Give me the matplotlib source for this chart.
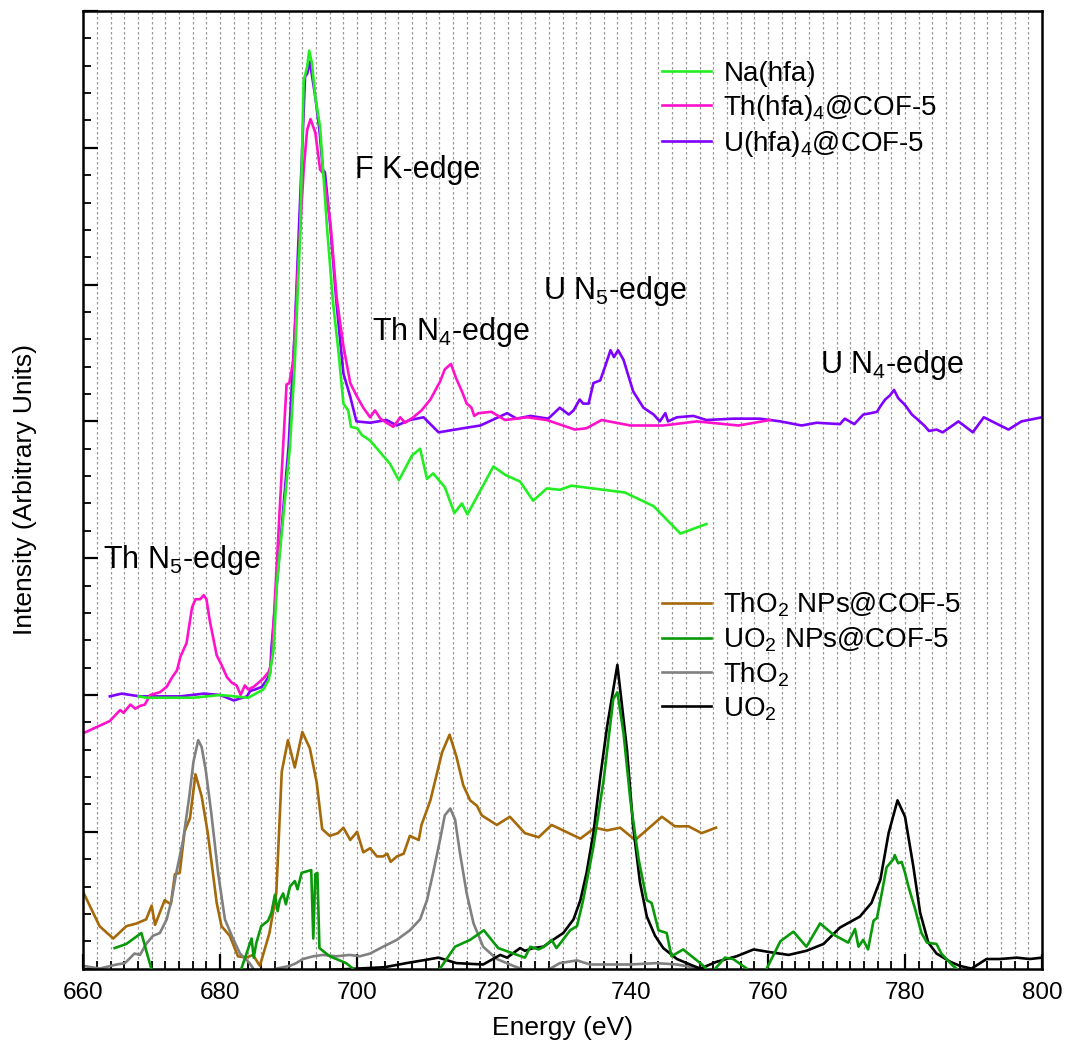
import matplotlib
matplotlib.use("Agg")
import matplotlib.pyplot as plt
from matplotlib.ticker import MultipleLocator, NullFormatter

plt.rcParams['font.family'] = ['Liberation Sans', 'DejaVu Sans']
plt.rcParams['mathtext.fontset'] = 'custom'
plt.rcParams['mathtext.rm'] = 'Liberation Sans'

#######################################################
# Data (energy in eV, intensity in arbitrary units)
#######################################################

# Na(hfa)
na_e = [668.1, 669.3, 676.1, 680.0, 684.1, 686.3, 687.1, 687.8, 688.3, 690.2, 690.9, 691.7,
        692.2, 692.7, 693.0, 693.4, 693.9, 694.6, 695.6, 696.5, 697.3, 698.0, 698.7, 699.1,
        700.0, 700.7, 701.9, 704.8, 706.1, 708.0, 709.2, 710.2, 711.1, 712.8, 714.2, 715.3,
        716.1, 719.9, 721.6, 723.8, 725.7, 727.7, 729.6, 731.3, 739.1, 743.3, 747.2, 751.0]
na_i = [1.99, 1.98, 1.98, 2.00, 1.98, 2.04, 2.11, 2.33, 2.82, 3.82, 4.42, 5.40,
        6.49, 6.59, 6.71, 6.62, 6.37, 6.15, 5.42, 4.86, 4.50, 4.13, 4.08, 3.96,
        3.95, 3.90, 3.86, 3.69, 3.57, 3.75, 3.80, 3.58, 3.62, 3.52, 3.33, 3.40,
        3.32, 3.67, 3.61, 3.56, 3.42, 3.51, 3.50, 3.53, 3.48, 3.38, 3.18, 3.25]

# Th(hfa)4@COF-5
th_e = [660.0, 663.9, 665.4, 665.9, 666.9, 667.6, 668.3, 669.0, 669.8, 671.2, 672.2, 673.0,
        673.7, 674.2, 675.1, 675.9, 676.4, 677.1, 677.6, 678.0, 678.5, 679.5, 680.2, 681.0,
        681.7, 682.4, 683.0, 683.6, 684.1, 684.9, 685.6, 686.3, 687.1, 687.5, 689.2, 689.7,
        690.1, 690.7, 691.4, 692.2, 692.7, 693.2, 693.9, 694.6, 695.1, 696.1, 697.0, 698.0,
        699.0, 700.0, 700.9, 701.9, 702.6, 703.4, 704.3, 705.3, 706.3, 707.0, 708.2, 709.4,
        710.7, 712.1, 712.8, 713.7, 714.5, 715.3, 716.0, 716.7, 717.1, 717.7, 719.6, 721.6,
        724.8, 727.7, 731.8, 733.5, 735.7, 739.9, 744.7, 749.6, 755.7, 760.3]
th_i = [1.72, 1.81, 1.89, 1.87, 1.93, 1.90, 1.92, 1.93, 2.00, 2.02, 2.06, 2.13,
        2.18, 2.28, 2.38, 2.64, 2.70, 2.70, 2.73, 2.70, 2.54, 2.29, 2.22, 2.13,
        2.09, 2.07, 2.00, 2.07, 2.04, 2.06, 2.09, 2.12, 2.17, 2.24, 3.82, 4.27,
        4.28, 4.45, 5.16, 5.84, 6.13, 6.21, 6.11, 5.84, 5.81, 5.45, 4.91, 4.55,
        4.28, 4.18, 4.10, 4.03, 4.08, 4.02, 3.99, 3.96, 4.03, 3.99, 4.03, 4.08,
        4.16, 4.29, 4.38, 4.42, 4.31, 4.22, 4.13, 4.10, 4.04, 4.06, 4.07, 4.01,
        4.03, 4.01, 3.94, 3.95, 4.01, 3.97, 3.97, 4.00, 3.97, 4.01]

# U(hfa)4@COF-5
u_e = [663.9, 665.6, 668.3, 674.2, 677.6, 680.0, 682.0, 683.9, 684.4, 685.1, 686.1, 686.8,
       687.3, 687.5, 690.0, 690.9, 691.9, 692.4, 692.7, 693.1, 693.9, 694.5, 695.0, 695.3,
       696.1, 697.0, 698.0, 699.0, 699.9, 701.9, 704.3, 705.8, 707.7, 709.7, 711.9, 715.5,
       718.0, 721.9, 723.3, 725.3, 727.9, 729.6, 730.9, 731.6, 732.5, 733.0, 733.8, 734.5,
       735.5, 736.2, 737.0, 737.5, 738.1, 738.9, 740.3, 741.8, 743.3, 744.2, 745.0, 745.4,
       746.7, 749.1, 751.0, 754.9, 758.8, 761.8, 764.9, 767.1, 770.5, 771.2, 772.6, 773.9,
       775.0, 775.9, 776.4, 777.1, 777.8, 778.4, 779.0, 780.0, 781.0, 781.7, 782.8, 783.5,
       784.6, 785.5, 787.8, 789.9, 791.5, 795.1, 797.0, 800.0]
u_i = [1.99, 2.01, 1.99, 1.99, 2.01, 2.00, 1.96, 1.99, 2.03, 2.04, 2.06, 2.11,
       2.16, 2.35, 3.82, 4.67, 5.89, 6.52, 6.54, 6.63, 6.37, 6.13, 5.84, 5.82,
       5.42, 4.86, 4.35, 4.18, 4.00, 3.99, 4.01, 3.97, 4.01, 4.03, 3.92, 3.95,
       3.97, 4.06, 4.02, 4.04, 4.02, 4.10, 4.05, 4.08, 4.16, 4.13, 4.13, 4.28,
       4.30, 4.40, 4.52, 4.47, 4.52, 4.45, 4.22, 4.10, 4.05, 4.00, 4.06, 4.00,
       4.03, 4.04, 4.01, 4.02, 4.02, 4.00, 3.97, 3.99, 3.98, 4.02, 3.98, 4.05,
       4.06, 4.07, 4.11, 4.16, 4.19, 4.23, 4.17, 4.12, 4.05, 4.02, 3.97, 3.93,
       3.94, 3.92, 4.00, 3.92, 4.03, 3.94, 4.00, 4.03]

# ThO2 NPs@COF-5
thnp_e = [660.0, 662.4, 664.4, 666.3, 667.8, 669.2, 670.0, 670.5, 671.9, 672.8, 673.4, 674.1,
          674.8, 675.6, 676.4, 677.3, 678.2, 679.5, 680.2, 681.4, 682.6, 683.8, 684.8, 685.8,
          687.2, 688.2, 689.0, 689.9, 690.9, 692.0, 693.1, 694.1, 694.9, 696.0, 697.2, 698.0,
          699.0, 700.0, 700.9, 701.9, 702.9, 703.8, 704.4, 704.9, 705.8, 706.8, 707.7, 709.0,
          709.4, 710.7, 712.4, 713.5, 714.5, 715.5, 716.5, 717.5, 718.2, 720.4, 722.3, 724.5,
          726.5, 728.4, 732.6, 734.7, 736.5, 738.4, 740.6, 744.5, 746.4, 748.4, 750.3, 752.4]
thnp_i = [0.56, 0.31, 0.22, 0.31, 0.33, 0.36, 0.46, 0.32, 0.50, 0.47, 0.69, 0.70,
          1.00, 1.10, 1.42, 1.26, 0.99, 0.48, 0.31, 0.24, 0.09, 0.08, 0.10, 0.02,
          0.26, 0.55, 1.44, 1.67, 1.47, 1.73, 1.61, 1.36, 1.02, 0.97, 0.99, 1.03,
          0.94, 1.00, 0.85, 0.88, 0.82, 0.82, 0.84, 0.78, 0.82, 0.84, 0.97, 0.94,
          1.05, 1.23, 1.58, 1.71, 1.55, 1.34, 1.23, 1.19, 1.12, 1.05, 1.11, 0.99,
          0.96, 1.05, 0.95, 1.03, 1.01, 1.03, 0.94, 1.11, 1.04, 1.04, 0.99, 1.03]

# UO2 NPs@COF-5 (dips below zero are cut by the axis)
unp_e = [664.6, 666.3, 668.5, 670.0, 672.0, 682.0, 683.1, 684.6, 684.9, 685.3, 686.0, 687.0,
         687.5, 688.0, 688.4, 688.7, 689.2, 689.6, 690.2, 690.9, 691.3, 691.9, 692.6, 693.3,
         693.6, 693.9, 694.2, 694.5, 696.0, 698.4, 699.4, 701.0, 711.0, 712.1, 714.3, 716.5,
         718.5, 720.6, 724.5, 725.3, 726.5, 727.3, 728.4, 729.1, 729.9, 731.1, 732.1, 733.0,
         734.5, 736.0, 737.4, 738.0, 738.9, 739.9, 741.1, 742.3, 743.0, 744.0, 745.2, 745.9,
         747.6, 750.1, 751.0, 751.5, 752.3, 753.7, 754.9, 756.9, 758.0, 759.0, 759.8, 761.8,
         763.7, 765.6, 767.6, 769.5, 771.7, 772.7, 773.2, 773.9, 774.6, 775.4, 775.9, 776.6,
         777.3, 778.3, 778.5, 779.0, 779.5, 780.0, 780.5, 781.5, 782.4, 783.2, 784.6, 785.3,
         786.8, 787.5, 788.5]
unp_i = [0.15, 0.18, 0.26, -0.01, -0.40, -0.40, 0.00, 0.22, 0.08, 0.19, 0.31, 0.35,
         0.41, 0.54, 0.42, 0.50, 0.55, 0.47, 0.60, 0.64, 0.58, 0.70, 0.71, 0.72,
         0.22, 0.69, 0.70, 0.15, 0.09, 0.04, 0.00, -0.30, -0.30, 0.00, 0.16, 0.21,
         0.28, 0.15, 0.08, 0.16, 0.14, 0.16, 0.21, 0.15, 0.20, 0.28, 0.31, 0.50,
         0.89, 1.38, 1.97, 2.02, 1.72, 1.23, 0.80, 0.50, 0.48, 0.28, 0.26, 0.09,
         0.14, 0.04, 0.00, -0.10, 0.00, 0.08, 0.07, 0.00, -0.20, -0.20, 0.00, 0.20,
         0.27, 0.16, 0.33, 0.25, 0.19, 0.29, 0.16, 0.21, 0.14, 0.35, 0.37, 0.55,
         0.74, 0.80, 0.83, 0.77, 0.78, 0.70, 0.60, 0.43, 0.26, 0.19, 0.18, 0.11,
         0.03, 0.00, -0.10]

# ThO2
tho2_e = [660.0, 662.4, 664.9, 666.1, 667.5, 668.3, 669.2, 670.2, 671.2, 672.2, 672.9, 673.6,
          674.6, 675.5, 676.1, 676.8, 677.3, 677.9, 678.7, 679.7, 680.7, 681.7, 682.9, 684.3,
          685.5, 687.5, 688.2, 690.2, 691.1, 692.1, 693.6, 695.0, 697.0, 698.9, 700.4, 701.9,
          703.8, 705.8, 707.7, 709.2, 710.2, 711.1, 712.1, 712.8, 713.6, 714.3, 715.0, 716.0,
          717.0, 718.4, 720.4, 722.8, 725.0, 727.5, 729.6, 732.1, 734.0, 737.4, 739.9, 743.7,
          746.7, 750.1, 751.5]
tho2_i = [0.02, 0.00, 0.03, 0.04, 0.11, 0.10, 0.18, 0.24, 0.26, 0.36, 0.50, 0.70,
          0.94, 1.26, 1.51, 1.67, 1.62, 1.45, 1.14, 0.70, 0.36, 0.24, 0.11, 0.04,
          -0.05, -0.05, 0.00, 0.02, 0.04, 0.07, 0.09, 0.10, 0.09, 0.10, 0.09, 0.11,
          0.16, 0.21, 0.28, 0.36, 0.50, 0.70, 0.94, 1.12, 1.17, 1.09, 0.85, 0.55,
          0.33, 0.16, 0.07, 0.02, -0.02, -0.02, 0.04, 0.06, 0.03, 0.03, 0.03, 0.04,
          0.03, 0.00, -0.02]

# UO2
uo2_e = [696.0, 700.0, 704.0, 707.2, 711.9, 714.5, 718.4, 720.9, 721.9, 723.8, 724.5, 725.7,
         727.2, 728.6, 730.1, 731.6, 732.6, 733.5, 734.5, 735.5, 736.5, 738.0, 739.4, 740.3,
         741.3, 742.3, 743.5, 744.7, 746.7, 748.6, 750.1, 752.5, 755.4, 757.9, 760.3, 763.0,
         765.6, 768.1, 770.5, 773.4, 775.1, 776.4, 777.6, 778.9, 780.0, 781.2, 782.2, 783.4,
         784.6, 786.6, 788.0, 789.7, 791.9, 793.9, 796.3, 798.2, 800.0]
uo2_i = [-0.01, 0.00, 0.01, 0.04, 0.08, 0.04, 0.03, 0.10, 0.08, 0.15, 0.13, 0.15,
         0.16, 0.21, 0.26, 0.36, 0.50, 0.70, 0.99, 1.40, 1.77, 2.22, 1.60, 1.04,
         0.63, 0.38, 0.24, 0.15, 0.07, 0.03, 0.00, 0.05, 0.09, 0.14, 0.12, 0.10,
         0.13, 0.18, 0.30, 0.38, 0.48, 0.65, 0.99, 1.23, 1.11, 0.75, 0.41, 0.19,
         0.11, 0.05, 0.02, 0.00, 0.07, 0.07, 0.08, 0.07, 0.08]

top_labels = ['Na(hfa)', r'Th(hfa)$_4$@COF-5', r'U(hfa)$_4$@COF-5']
bottom_labels = [r'ThO$_2$ NPs@COF-5', r'UO$_2$ NPs@COF-5', r'ThO$_2$', r'UO$_2$']

#######################################################
# Drawing
#######################################################

fig = plt.figure(figsize=(10.66, 10.46), dpi=100)
ax = fig.add_axes([0.078, 0.074, 0.8995, 0.9155])

lw = 1.9
ax.grid(False)
for xg in range(662, 800, 2):
    ax.axvline(xg, color='#999999', linestyle=(0, (2, 2)), linewidth=0.9, zorder=0)

top_lines = []
top_lines.append(ax.plot(na_e, na_i, color='#22EE22', lw=lw, zorder=3)[0])
top_lines.append(ax.plot(th_e, th_i, color='#FF11CC', lw=lw, zorder=2)[0])
top_lines.append(ax.plot(u_e, u_i, color='#7F00FF', lw=lw, zorder=1)[0])

bot_lines = []
bot_lines.append(ax.plot(thnp_e, thnp_i, color='#A5690A', lw=lw, zorder=2)[0])
bot_lines.append(ax.plot(unp_e, unp_i, color='#0A990A', lw=lw, zorder=4)[0])
bot_lines.append(ax.plot(tho2_e, tho2_i, color='#808080', lw=lw, zorder=2)[0])
bot_lines.append(ax.plot(uo2_e, uo2_i, color='black', lw=lw, zorder=3)[0])

ax.set_xlim(660, 800)
ax.set_ylim(0, 7)
ax.xaxis.set_major_locator(MultipleLocator(20))
ax.xaxis.set_minor_locator(MultipleLocator(2))
ax.yaxis.set_major_locator(MultipleLocator(1))
ax.yaxis.set_minor_locator(MultipleLocator(0.2))
ax.yaxis.set_major_formatter(NullFormatter())
ax.tick_params(axis='both', which='major', direction='in', length=11, width=1.6,
               top=False, right=False, labelsize=17.5, pad=10)
ax.tick_params(axis='both', which='minor', direction='in', length=6, width=1.3,
               top=False, right=False)
for s in ax.spines.values():
    s.set_linewidth(1.8)

ax.set_xlabel('Energy (eV)', fontsize=19, labelpad=8)
ax.set_ylabel('Intensity (Arbitrary Units)', fontsize=19, labelpad=23)

leg_kw = dict(loc='upper left', frameon=False, fontsize=20, handlelength=1.75,
              handletextpad=0.45, labelspacing=0.22, borderaxespad=0, borderpad=0)
leg1 = ax.legend(top_lines, top_labels, bbox_to_anchor=(0.604, 0.948), **leg_kw)
ax.add_artist(leg1)
ax.legend(bot_lines, bottom_labels, bbox_to_anchor=(0.604, 0.395), **leg_kw)

txt = dict(fontsize=22, ha='left', va='center')
ax.text(699.7, 5.84, 'F K-edge', **txt)
ax.text(702.2, 4.65, r'Th N$_4$-edge', **txt)
ax.text(727.2, 4.95, r'U N$_5$-edge', **txt)
ax.text(767.6, 4.41, r'U N$_4$-edge', **txt)
ax.text(662.9, 2.99, r'Th N$_5$-edge', **txt)

fig.savefig('out.png', dpi=100)
